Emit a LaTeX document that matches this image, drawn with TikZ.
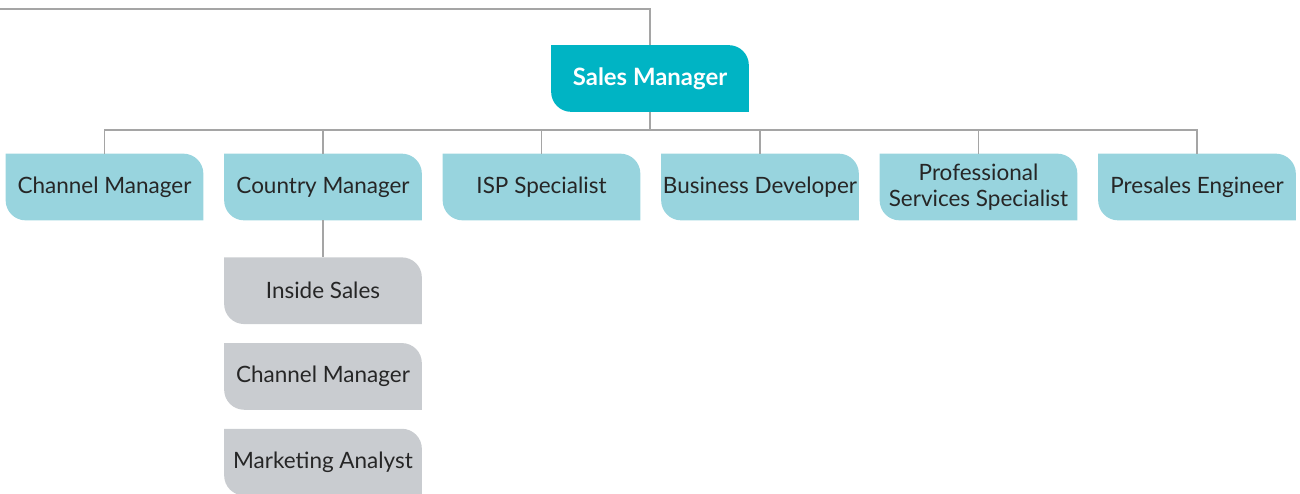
\documentclass[tikz,border=0pt]{standalone}
\usepackage{fontspec}
\setmainfont{Lato}
\usetikzlibrary{positioning,backgrounds}
\definecolor{tealdark}{RGB}{0,180,196}
\definecolor{teallight}{RGB}{152,212,222}
\definecolor{staffgray}{RGB}{201,204,208}
\definecolor{linkgray}{RGB}{165,165,165}
\tikzstyle{box}=[rectangle,inner sep=0pt,minimum width=3.94cm,minimum height=1.32cm,
align=center,text=black!85,font=\fontsize{12.8}{14.5}\selectfont]
\tikzstyle{boss}=[box,text=white,font=\fontsize{13.6}{15}\selectfont\bfseries]
\tikzstyle{role}=[box]
\tikzstyle{staff}=[box]
\tikzstyle{link}=[draw=linkgray,line width=0.6pt]
% tab shaped fill: rounded top right and bottom left corners
\newcommand{\tabfill}[2]{%
  \fill[#2] (#1.north west) -- ([xshift=-0.4cm]#1.north east)
    arc[start angle=90,end angle=0,radius=0.4cm] -- (#1.south east)
    -- ([xshift=0.4cm]#1.south west)
    arc[start angle=270,end angle=180,radius=0.4cm] -- cycle;}

\begin{document}
\begin{tikzpicture}[node distance=4.37cm]
            \useasboundingbox (0,0) rectangle (26,-9.86);

            % MANAGER PART

            \node[boss] (sm) at (13,-1.57) {Sales Manager};
            \coordinate (edge) at (0,-0.18);
            \coordinate (fork) at (13,-2.6);

            % ROLES PART

            \node[role] (r1) at (2.09,-3.74) {Channel Manager};
            \node[role, right of=r1] (r2) {Country Manager};
            \node[role, right of=r2] (r3) {ISP Specialist};
            \node[role, right of=r3] (r4) {Business Developer};
            \node[role, right of=r4] (r5) {Professional\\Services Specialist};
            \node[role, right of=r5] (r6) {Presales Engineer};

            % COUNTRY STAFF PART

            \node[staff, below=0.74cm of r2] (s1) {Inside Sales};
            \node[staff, below=0.38cm of s1] (s2) {Channel Manager};
            \node[staff, below=0.38cm of s2] (s3) {Marketing Analyst};

            % Boxes and links

            \begin{scope}[on background layer]
                \tabfill{sm}{tealdark}
                \foreach \n in {r1,r2,r3,r4,r5,r6} {\tabfill{\n}{teallight}}
                \foreach \n in {s1,s2,s3} {\tabfill{\n}{staffgray}}

                \draw[link] (edge) -| (sm.north);
                \draw[link] (sm.south) -- (fork);
                \foreach \n in {r1,r2,r3,r4,r5,r6} {\draw[link] (\n.north) |- (fork);}
                \draw[link] (r2.south) -- (s1.north);
            \end{scope}

\end{tikzpicture}
\end{document}
